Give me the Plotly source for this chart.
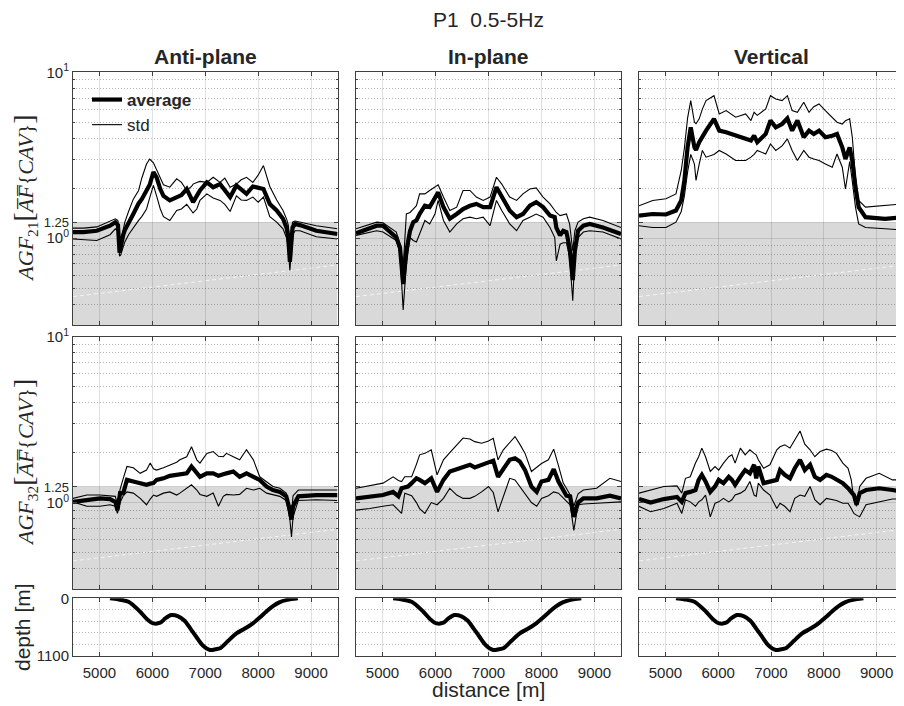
import math
import plotly.graph_objects as go

# ---------------- data ----------------
dist_ticks = [5000, 6000, 7000, 8000, 9000]
dist_ticktext = ["5000", "6000", "7000", "8000", "9000"]

# Row 1, Anti-plane (AGF21)
x_a21 = [4500, 4700, 4950, 5200, 5300, 5350, 5380, 5400, 5450, 5480, 5550, 5640, 5740, 5800, 5890, 5950,
         6020, 6080, 6150, 6210, 6330, 6460, 6550, 6650, 6740, 6770, 6840, 6900, 7030, 7150, 7280, 7370,
         7470, 7590, 7680, 7780, 7900, 8000, 8100, 8220, 8350, 8470, 8540, 8570, 8600, 8650, 8700, 8790,
         9100, 9500]
avg_a21 = [1.09, 1.09, 1.11, 1.19, 1.25, 1.20, 0.82, 0.90, 1.05, 1.12, 1.22, 1.40, 1.62, 1.72, 1.94, 2.10,
           2.50, 2.33, 1.98, 1.80, 1.69, 1.78, 1.82, 1.98, 1.72, 1.65, 1.80, 1.94, 2.17, 2.03, 2.12, 1.95,
           1.77, 2.08, 1.95, 1.85, 2.05, 2.00, 1.98, 1.61, 1.47, 1.31, 1.15, 1.00, 0.72, 1.16, 1.22, 1.20,
           1.11, 1.06]
up_a21 = [1.15, 1.15, 1.17, 1.26, 1.31, 1.28, 0.90, 0.95, 1.15, 1.25, 1.45, 1.72, 1.94, 2.30, 2.80, 3.00,
          2.85, 2.60, 2.33, 2.10, 2.03, 2.28, 2.17, 1.94, 2.05, 2.12, 2.17, 2.20, 2.17, 2.33, 2.17, 2.30,
          2.03, 2.12, 2.25, 2.33, 2.17, 2.40, 2.74, 2.05, 1.70, 1.47, 1.30, 1.20, 0.95, 1.25, 1.27, 1.25,
          1.19, 1.14]
lo_a21 = [0.99, 0.98, 0.97, 1.05, 1.14, 1.10, 0.78, 0.79, 0.88, 0.95, 1.05, 1.16, 1.28, 1.35, 1.50, 1.75,
          2.08, 1.80, 1.50, 1.35, 1.28, 1.47, 1.50, 1.60, 1.45, 1.42, 1.50, 1.69, 1.85, 1.75, 1.69, 1.60,
          1.45, 1.80, 1.70, 1.69, 1.77, 1.65, 1.77, 1.35, 1.25, 1.14, 1.00, 0.85, 0.64, 1.05, 1.11, 1.11,
          1.02, 0.99]

# Row 1, In-plane (AGF21)
x_i21 = [4500, 4890, 5010, 5260, 5330, 5390, 5450, 5520, 5580, 5640, 5700, 5800, 5890, 5990, 6050, 6150,
         6270, 6400, 6520, 6650, 6770, 6900, 7030, 7150, 7250, 7400, 7530, 7650, 7780, 7900, 8030, 8160,
         8250, 8280, 8350, 8410, 8470, 8530, 8590, 8630, 8690, 8790, 8910, 9160, 9500]
avg_i21 = [1.07, 1.19, 1.19, 1.01, 0.88, 0.53, 0.84, 1.11, 1.25, 1.28, 1.40, 1.57, 1.54, 1.73, 1.89, 1.54,
           1.31, 1.40, 1.50, 1.57, 1.61, 1.54, 1.54, 2.03, 1.77, 1.47, 1.34, 1.40, 1.57, 1.65, 1.54, 1.37,
           1.34, 1.16, 1.04, 1.11, 1.09, 0.88, 0.56, 0.84, 1.11, 1.19, 1.22, 1.16, 1.06]
up_i21 = [1.14, 1.25, 1.24, 1.09, 0.92, 0.67, 1.40, 1.43, 1.50, 1.57, 1.85, 1.85, 1.94, 2.03, 2.10, 1.77,
          1.47, 1.54, 1.94, 1.94, 1.77, 1.69, 1.77, 2.33, 2.12, 1.77, 1.69, 1.85, 1.98, 2.01, 1.77, 1.61,
          1.47, 1.43, 1.37, 1.39, 1.40, 1.22, 0.84, 1.11, 1.25, 1.31, 1.34, 1.28, 1.16]
lo_i21 = [1.04, 1.11, 1.09, 0.97, 0.81, 0.37, 0.70, 1.01, 0.97, 0.95, 1.06, 1.28, 1.22, 1.40, 1.69, 1.28,
          1.09, 1.22, 1.31, 1.34, 1.31, 1.34, 1.19, 1.69, 1.47, 1.22, 1.11, 1.28, 1.34, 1.40, 1.34, 1.16,
          1.01, 0.73, 0.92, 0.94, 0.94, 0.77, 0.42, 0.81, 1.01, 1.09, 1.11, 1.09, 0.99]

# Row 1, Vertical (AGF21)
x_v21 = [4500, 4760, 5010, 5200, 5300, 5360, 5420, 5480, 5550, 5580, 5640, 5700, 5770, 5920, 6020, 6150,
         6330, 6520, 6620, 6680, 6740, 6900, 6990, 7090, 7210, 7310, 7400, 7500, 7620, 7720, 7810, 7910,
         8030, 8160, 8250, 8350, 8410, 8490, 8540, 8600, 8660, 8790, 9160, 9500]
avg_v21 = [1.37, 1.40, 1.39, 1.47, 1.69, 2.23, 3.53, 4.66, 3.53, 3.40, 3.79, 4.10, 4.45, 5.24, 4.45, 4.35,
           4.15, 3.97, 3.88, 4.15, 3.79, 4.25, 5.12, 4.66, 4.88, 5.28, 4.45, 5.12, 4.06, 4.45, 4.25, 4.45,
           4.06, 4.15, 4.25, 3.53, 3.00, 3.53, 2.94, 2.03, 1.54, 1.34, 1.31, 1.34]
up_v21 = [1.57, 1.69, 1.73, 1.85, 2.56, 3.50, 5.30, 6.75, 5.00, 4.90, 5.24, 6.00, 6.75, 7.23, 5.61, 5.88,
          5.36, 5.61, 5.12, 5.74, 5.50, 6.01, 7.23, 6.91, 6.75, 7.23, 5.88, 5.74, 6.60, 5.74, 6.20, 6.45,
          5.88, 5.36, 5.00, 4.88, 5.10, 5.24, 4.06, 2.33, 1.69, 1.54, 1.57, 1.61]
lo_v21 = [1.19, 1.16, 1.16, 1.25, 1.45, 1.80, 2.50, 3.20, 2.80, 2.23, 2.80, 3.38, 3.08, 3.20, 3.38, 3.22,
          2.94, 2.94, 3.08, 3.20, 3.38, 3.22, 3.70, 3.38, 3.60, 3.97, 3.38, 2.94, 3.38, 3.08, 3.00, 2.94,
          2.80, 2.68, 3.22, 2.68, 1.98, 2.90, 2.20, 1.54, 1.22, 1.16, 1.14, 1.12]

# Row 2, Anti-plane (AGF32)
x_a32 = [4500, 4760, 5010, 5200, 5300, 5340, 5390, 5450, 5520, 5640, 5770, 5890, 5960, 6020, 6080, 6210,
         6330, 6460, 6520, 6650, 6740, 6840, 6900, 7030, 7150, 7250, 7340, 7400, 7530, 7650, 7780, 7910,
         8030, 8160, 8280, 8410, 8530, 8600, 8630, 8660, 8760, 9100, 9500]
avg_a32 = [1.01, 1.04, 1.06, 1.05, 1.01, 0.90, 1.14, 1.14, 1.37, 1.34, 1.31, 1.28, 1.30, 1.31, 1.37, 1.40,
           1.45, 1.47, 1.50, 1.50, 1.65, 1.50, 1.43, 1.50, 1.50, 1.45, 1.47, 1.50, 1.54, 1.43, 1.50, 1.43,
           1.37, 1.25, 1.19, 1.16, 1.09, 0.90, 0.79, 0.95, 1.09, 1.11, 1.11]
up_a32 = [1.06, 1.11, 1.11, 1.10, 1.09, 0.98, 1.20, 1.40, 1.65, 1.62, 1.50, 1.57, 1.73, 1.60, 1.57, 1.62,
          1.69, 1.75, 1.81, 1.89, 2.17, 1.81, 1.73, 1.98, 2.03, 1.90, 1.89, 1.98, 1.89, 1.81, 2.08, 1.81,
          1.43, 1.34, 1.25, 1.22, 1.14, 0.95, 0.86, 1.10, 1.19, 1.19, 1.19]
lo_a32 = [1.01, 0.95, 0.95, 0.97, 0.95, 0.86, 1.00, 1.10, 1.16, 1.14, 1.06, 0.97, 1.05, 1.11, 1.09, 1.14,
          1.16, 1.11, 1.14, 1.22, 1.28, 1.19, 1.12, 1.09, 1.14, 0.95, 1.09, 1.12, 1.11, 1.12, 1.22, 1.19,
          1.22, 1.14, 1.11, 1.09, 1.03, 0.79, 0.62, 0.82, 1.03, 1.04, 1.03]

# Row 2, In-plane (AGF32)
x_i32 = [4500, 4760, 5010, 5200, 5300, 5360, 5420, 5480, 5550, 5640, 5700, 5800, 5920, 6030, 6150, 6270,
         6400, 6520, 6650, 6740, 6870, 7000, 7090, 7180, 7280, 7400, 7500, 7590, 7690, 7810, 7910, 8000,
         8130, 8230, 8320, 8410, 8470, 8540, 8610, 8690, 8790, 9040, 9290, 9500]
avg_i32 = [1.06, 1.08, 1.11, 1.16, 1.09, 1.22, 1.24, 1.25, 1.31, 1.40, 1.37, 1.31, 1.40, 1.16, 1.37, 1.54,
           1.59, 1.63, 1.69, 1.63, 1.69, 1.73, 1.79, 1.43, 1.61, 1.81, 1.85, 1.77, 1.57, 1.25, 1.16, 1.34,
           1.37, 1.59, 1.34, 1.19, 1.10, 1.09, 0.82, 1.00, 1.06, 1.06, 1.10, 1.06]
up_i32 = [1.22, 1.26, 1.31, 1.43, 1.36, 1.34, 1.43, 1.43, 1.43, 1.70, 1.94, 1.98, 2.08, 1.47, 1.81, 2.00,
          2.23, 2.45, 2.42, 2.33, 2.28, 2.35, 2.44, 1.81, 2.08, 2.30, 2.50, 2.25, 1.98, 1.54, 1.64, 1.72,
          1.81, 2.10, 1.67, 1.31, 1.22, 1.11, 0.95, 1.13, 1.19, 1.22, 1.40, 1.34]
lo_i32 = [0.90, 0.92, 0.95, 0.97, 0.90, 0.86, 1.14, 1.12, 1.10, 1.00, 0.92, 0.86, 1.00, 0.97, 1.06, 1.22,
          1.11, 1.06, 1.06, 1.09, 1.16, 1.25, 1.15, 0.88, 1.10, 1.40, 1.37, 1.25, 1.12, 1.00, 0.95, 1.06,
          1.10, 1.16, 1.14, 1.06, 1.02, 0.97, 0.68, 0.97, 0.98, 0.99, 1.00, 1.01]

# Row 2, Vertical (AGF32)
x_v32 = [4500, 4720, 4970, 5220, 5310, 5380, 5470, 5570, 5630, 5690, 5760, 5850, 5940, 6010, 6100, 6200,
         6260, 6320, 6420, 6510, 6600, 6680, 6720, 6760, 6860, 6980, 7110, 7170, 7260, 7360, 7450, 7550,
         7640, 7740, 7830, 7930, 8050, 8150, 8240, 8360, 8460, 8520, 8570, 8620, 8680, 8800, 9050, 9300,
         9500]
avg_v32 = [1.05, 1.00, 1.05, 1.08, 1.01, 1.14, 1.16, 1.19, 1.37, 1.47, 1.34, 1.16, 1.25, 1.37, 1.31, 1.43,
           1.37, 1.28, 1.43, 1.57, 1.50, 1.69, 1.40, 1.65, 1.31, 1.34, 1.37, 1.57, 1.47, 1.40, 1.61, 1.81,
           1.57, 1.69, 1.43, 1.37, 1.47, 1.43, 1.37, 1.31, 1.22, 1.16, 1.11, 0.97, 1.14, 1.19, 1.22, 1.19,
           1.16]
up_v32 = [1.14, 1.19, 1.25, 1.26, 1.14, 1.40, 1.43, 1.73, 1.89, 2.13, 1.89, 1.54, 1.65, 1.57, 1.73, 1.89,
          1.94, 1.73, 2.13, 1.94, 2.08, 1.98, 1.94, 1.81, 1.61, 1.69, 2.08, 2.17, 2.23, 2.13, 2.39, 2.70,
          2.25, 2.08, 1.89, 2.03, 2.10, 2.06, 1.98, 1.73, 1.61, 1.37, 1.04, 0.95, 1.25, 1.40, 1.50, 1.37,
          1.37]
lo_v32 = [0.95, 0.88, 0.92, 0.99, 0.86, 1.04, 1.01, 0.95, 1.01, 1.04, 1.11, 0.82, 0.99, 1.01, 1.06, 1.01,
          1.04, 1.11, 1.14, 1.19, 1.34, 1.11, 1.09, 1.31, 1.19, 1.11, 0.92, 0.99, 0.95, 0.88, 1.06, 1.11,
          1.09, 1.25, 1.04, 0.97, 1.06, 1.04, 1.03, 0.99, 0.99, 0.92, 0.86, 0.84, 0.82, 0.97, 1.01, 1.05,
          1.05]

# Basin depth profile
x_depth = [5200, 5350, 5550, 5770, 5900, 6020, 6150, 6250, 6360, 6480, 6610, 6720, 6830, 6950, 7090,
           7200, 7280, 7430, 7590, 7750, 7900, 8030, 8150, 8280, 8400, 8550, 8750]
depth = [0, 20, 65, 257, 400, 480, 467, 380, 320, 340, 429, 580, 736, 900, 990, 975, 958, 820, 671,
         580, 479, 370, 257, 150, 77, 30, 0]

threshold = 1.25
agf_min = 0.3
agf_max = 10
artifact_y = [0.445, 0.69]   # faint white dashed line in shaded zone

col_titles = ["Anti-plane", "In-plane", "Vertical"]
main_title = "P1\u00a0\u00a00.5-5Hz"

# ---------------- layout ----------------
# the page body adds an 8px offset; figure covers the visible 896x698 area
W, H, OFF = 896, 698, 8


def px(x):
    return (x - OFF) / W


def py(y):
    return 1 - (y - OFF) / H


col_dom = [[px(73), px(337.5)], [px(356), px(621)], [px(639), px(903)]]
row_dom = [[py(325), py(72.3)], [py(589.3), py(336.7)], [py(655.7), py(598.3)]]

FONT = "Liberation Sans, Arial, sans-serif"
SERIF = "Liberation Serif, Times New Roman, serif"
TXT = "#262626"
AXC = "#404040"
GRID = "rgba(38,38,38,0.14)"
MGRID = "rgba(38,38,38,0.35)"
DOT = "1px,2px"

panels = [
    (0, 0, x_a21, avg_a21, up_a21, lo_a21),
    (0, 1, x_i21, avg_i21, up_i21, lo_i21),
    (0, 2, x_v21, avg_v21, up_v21, lo_v21),
    (1, 0, x_a32, avg_a32, up_a32, lo_a32),
    (1, 1, x_i32, avg_i32, up_i32, lo_i32),
    (1, 2, x_v32, avg_v32, up_v32, lo_v32),
]

fig = go.Figure()
shapes = []
layout = {}


def axname(i):
    return "" if i == 1 else str(i)


for (r, c, xs, av, up, lo) in panels:
    idx = r * 3 + c + 1
    xa, ya = "x" + axname(idx), "y" + axname(idx)
    first = (r == 0 and c == 0)
    fig.add_trace(go.Scatter(x=xs, y=up, xaxis=xa, yaxis=ya, mode="lines",
                             line=dict(color="black", width=1.1), name="std",
                             showlegend=first, legendrank=2, hoverinfo="skip"))
    fig.add_trace(go.Scatter(x=xs, y=lo, xaxis=xa, yaxis=ya, mode="lines",
                             line=dict(color="black", width=1.1), name="std",
                             showlegend=False, hoverinfo="skip"))
    fig.add_trace(go.Scatter(x=xs, y=av, xaxis=xa, yaxis=ya, mode="lines",
                             line=dict(color="black", width=4.2), name="<b>average</b>",
                             showlegend=first, legendrank=1, hoverinfo="skip"))
    shapes.append(dict(type="rect", xref=xa, yref=ya, x0=4500, x1=9500, y0=agf_min, y1=threshold,
                       fillcolor="#d9d9d9", line=dict(width=0), layer="below"))
    shapes.append(dict(type="line", xref=xa, yref=ya, x0=4500, x1=9500, y0=artifact_y[0], y1=artifact_y[1],
                       line=dict(color="rgba(255,255,255,0.7)", width=1, dash="4px,3px"), layer="below"))
    layout["xaxis" + axname(idx)] = dict(
        domain=col_dom[c], anchor=ya, range=[4500, 9500], tickvals=dist_ticks,
        showticklabels=False, ticks="inside", ticklen=4, tickcolor=AXC, automargin=False,
        showline=True, linecolor=AXC, linewidth=1, mirror="ticks",
        showgrid=True, gridcolor=GRID, gridwidth=1, zeroline=False)
    layout["yaxis" + axname(idx)] = dict(
        domain=row_dom[r], anchor=xa, type="log", automargin=False,
        range=[math.log10(agf_min), math.log10(agf_max)],
        tickvals=[1, 1.25, 10],
        ticktext=["10<sup>0</sup>", "<span style='font-size:13px'>1.25</span>", "10<sup>1</sup>"],
        showticklabels=(c == 0), tickfont=dict(family=FONT, size=15, color=TXT),
        ticks="inside", ticklen=4, tickcolor=AXC,
        showline=True, linecolor=AXC, linewidth=1, mirror="ticks",
        showgrid=True, gridcolor=GRID, gridwidth=1, zeroline=False,
        minor=dict(tickvals=[0.4, 0.5, 0.6, 0.7, 0.8, 0.9, 2, 3, 4, 5, 6, 7, 8, 9],
                   showgrid=True, gridcolor=MGRID, griddash=DOT, gridwidth=1,
                   ticks="inside", ticklen=2, tickcolor=AXC))

# depth panels
for c in range(3):
    idx = 6 + c + 1
    xa, ya = "x" + axname(idx), "y" + axname(idx)
    fig.add_trace(go.Scatter(x=x_depth, y=depth, xaxis=xa, yaxis=ya, mode="lines",
                             line=dict(color="black", width=4, shape="spline", smoothing=0.8),
                             showlegend=False, hoverinfo="skip"))
    layout["xaxis" + axname(idx)] = dict(
        domain=col_dom[c], anchor=ya, range=[4500, 9500], tickvals=dist_ticks, ticktext=dist_ticktext,
        tickfont=dict(family=FONT, size=15, color=TXT), ticklabelstandoff=3, automargin=False,
        ticks="inside", ticklen=4, tickcolor=AXC,
        showline=True, linecolor=AXC, linewidth=1, mirror="ticks",
        showgrid=True, gridcolor=GRID, gridwidth=1, zeroline=False)
    layout["yaxis" + axname(idx)] = dict(
        domain=row_dom[2], anchor=xa, range=[1100, 0], tickvals=[0, 1100], ticktext=["0", "1100"],
        showticklabels=(c == 0), tickfont=dict(family=FONT, size=15, color=TXT), automargin=False,
        ticks="inside", ticklen=4, tickcolor=AXC,
        showline=True, linecolor=AXC, linewidth=1, mirror="ticks",
        showgrid=False, zeroline=False,
        minor=dict(tickvals=[220, 440, 660, 880], showgrid=True, gridcolor=MGRID,
                   griddash=DOT, gridwidth=1))

ylab = ("<i>AGF</i><sub>{}</sub><span style='font-size:28px'>[</span>"
        "<i>A\u0305F\u0305</i>{{<i>CAV</i>}}<span style='font-size:28px'>]</span>")


def ann(text, x, y, size, family=FONT, angle=0):
    return dict(text=text, x=x, y=y, xref="paper", yref="paper", xanchor="center", yanchor="middle",
                textangle=angle, showarrow=False, font=dict(family=family, size=size, color=TXT))


annotations = [
    ann(main_title, px(489), py(20), 21),
    ann(ylab.format("21"), px(25), (row_dom[0][0] + row_dom[0][1]) / 2, 22, SERIF, -90),
    ann(ylab.format("32"), px(25), (row_dom[1][0] + row_dom[1][1]) / 2, 22, SERIF, -90),
    ann("depth [m]", px(22), (row_dom[2][0] + row_dom[2][1]) / 2, 21, FONT, -90),
    ann("distance [m]", px(488.5), py(689), 21),
]
for c in range(3):
    annotations.append(ann("<b>" + col_titles[c] + "</b>", (col_dom[c][0] + col_dom[c][1]) / 2,
                           py(57), 21))

fig.update_layout(
    template="none",
    width=W, height=H, margin=dict(l=0, r=0, t=0, b=0, autoexpand=False),
    paper_bgcolor="white", plot_bgcolor="white",
    font=dict(family=FONT, color=TXT),
    shapes=shapes, annotations=annotations,
    showlegend=True,
    legend=dict(x=px(87), y=py(82), xanchor="left", yanchor="top",
                bgcolor="rgba(0,0,0,0)", font=dict(family=FONT, size=17, color=TXT),
                tracegroupgap=0, itemwidth=30),
    **layout)

fig.write_html("out.html")
